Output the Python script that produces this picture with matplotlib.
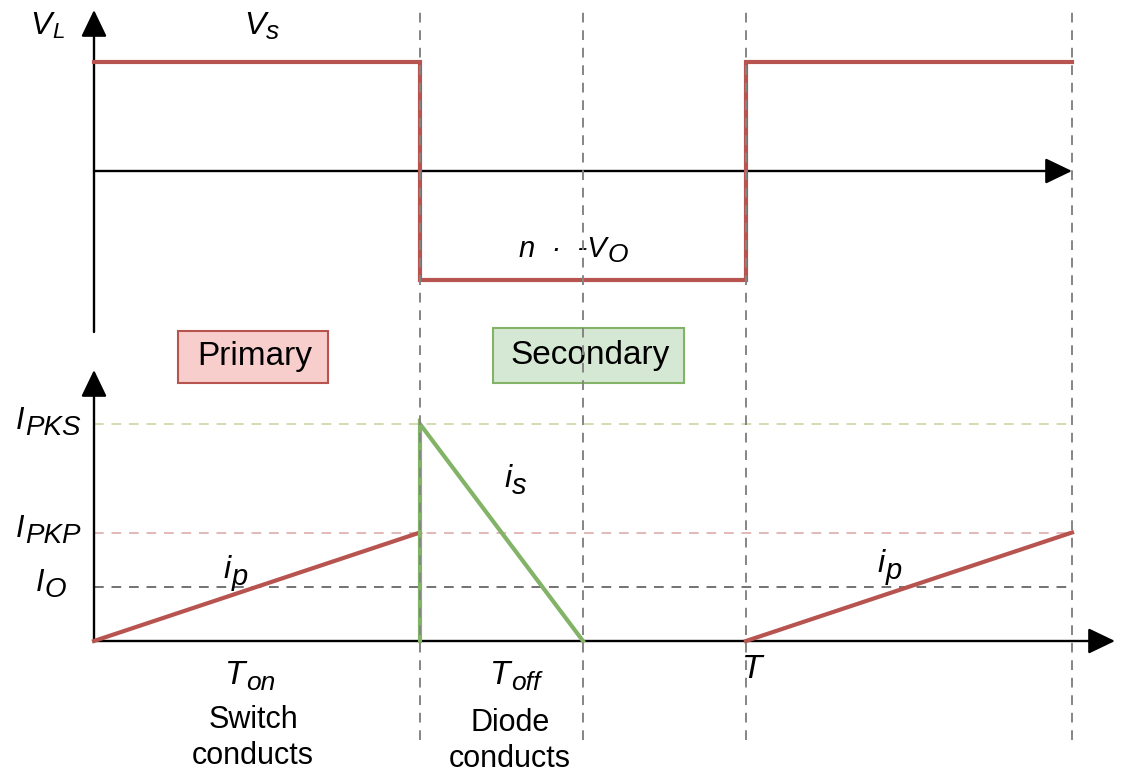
import matplotlib
matplotlib.use("Agg")
import matplotlib.pyplot as plt
from matplotlib.patches import Rectangle, ArrowStyle

plt.rcParams['font.family'] = ['Liberation Sans', 'DejaVu Sans']

# time marks (units of T_on)
t_marks = [1.0, 1.5, 2.0, 3.0]          # T_on, end of T_off, T, end
# inductor voltage waveform
v_t = [0.0, 1.0, 1.0, 2.0, 2.0, 3.0]
v_val = [1.0, 1.0, -1.0, -1.0, 1.0, 1.0]
# currents
ip1_t = [0.0, 1.0]
ip1_val = [0.0, 1.0]
is_t = [1.0, 1.0, 1.5]
is_val = [0.0, 2.0, 0.0]
ip2_t = [2.0, 3.0]
ip2_val = [0.0, 1.0]
# current levels
i_levels = [2.0, 1.0, 0.5]
i_level_names = [('I', 'PKS'), ('I', 'PKP'), ('I', 'O')]
i_level_colors = ['#d2ddb2', '#e2b9b9', '#727272']

RED = '#b85450'
GREEN = '#82b366'
GRAY = '#858585'

fig = plt.figure(figsize=(11.3, 7.78), dpi=100)
W, H = 1130, 778
x0, sx = 94, 326.0      # pixel of t=0, pixels per time unit
sy = 108.5              # pixels per amplitude unit
xlim = (-x0 / sx, (W - x0) / sx)


def px(p):
    return (p - x0) / sx


# top axes: pixel rows 0..340, zero at 171
ax_v = fig.add_axes([0, 1 - 340 / H, 1, 340 / H])
ax_v.set_xlim(xlim)
ax_v.set_ylim(-(340 - 171) / sy, 171 / sy)
# bottom axes: pixel rows 360..778, zero at 641
ax_i = fig.add_axes([0, 0, 1, (H - 360) / H])
ax_i.set_xlim(xlim)
ax_i.set_ylim(-(H - 641) / sy, (641 - 360) / sy)
# overlay for vertical guides
ax_o = fig.add_axes([0, 0, 1, 1])
ax_o.set_xlim(xlim)
ax_o.set_ylim(0, 1)
for a in (ax_v, ax_i, ax_o):
    a.axis('off')
    a.patch.set_alpha(0)


def vy(p):
    return (171 - p) / sy


def iy(p):
    return (641 - p) / sy


def sub_label(ax, x, y, main, sub, size, sub_size, drop):
    t = ax.text(x, y, main, fontsize=size, style='italic', ha='center',
                va='center', zorder=7)
    ax.annotate(sub, xy=(1, 0.5), xycoords=t, xytext=(0.5, -drop),
                textcoords='offset points', fontsize=sub_size, style='italic',
                ha='left', va='center', zorder=7)


for t in t_marks:
    ax_o.axvline(t, ymin=1 - 740 / H, ymax=1 - 10 / H, color=GRAY, lw=1.4,
                 ls=(0, (5, 4)), zorder=0)

head = ArrowStyle('-|>', head_length=0.75, head_width=0.36)
arrow = dict(arrowstyle=head, color='black', lw=1.7, mutation_scale=22,
             shrinkA=0, shrinkB=0)

# top panel
ax_v.annotate('', xy=(0, vy(10)), xytext=(0, vy(332)), arrowprops=arrow)
ax_v.annotate('', xy=(px(1072), 0), xytext=(0, 0), arrowprops=arrow)
ax_v.plot(v_t, v_val, color=RED, lw=3.0, solid_joinstyle='miter', zorder=3)
sub_label(ax_v, px(41), vy(26), 'V', 'L', 23, 16, 5)
sub_label(ax_v, px(255), vy(26), 'V', 's', 23, 19, 4)
sub_label(ax_v, px(563), vy(249), 'n  ·  -V', 'O', 21, 19, 4)

# bottom panel
ax_i.annotate('', xy=(0, iy(370)), xytext=(0, 0), arrowprops=arrow)
ax_i.annotate('', xy=(px(1115), 0), xytext=(0, 0), arrowprops=arrow)
for lvl, col, (m, s), lx in zip(i_levels, i_level_colors, i_level_names, [20, 20, 40]):
    ax_i.plot([0, t_marks[-1]], [lvl, lvl], color=col, lw=1.4,
              ls=(0, (5, 4)), zorder=1)
    sub_label(ax_i, px(lx), lvl + 0.03, m, s, 22, 20, 5)
ax_i.plot(ip1_t, ip1_val, color=RED, lw=3.0, zorder=3)
ax_i.plot(is_t, is_val, color=GREEN, lw=3.0, solid_joinstyle='miter', zorder=4)
ax_i.plot(ip2_t, ip2_val, color=RED, lw=3.0, zorder=3)

sub_label(ax_i, px(227), iy(570), 'i', 'p', 23, 21, 5)
sub_label(ax_i, px(881), iy(564), 'i', 'p', 23, 21, 5)
sub_label(ax_i, px(508), iy(479), 'i', 's', 23, 21, 5)
ax_i.text(px(752), iy(669), 'T', fontsize=24, style='italic', ha='center', va='center')
sub_label(ax_i, px(235), iy(675), 'T', 'on', 24, 19, 6)
sub_label(ax_i, px(500), iy(675), 'T', 'off', 24, 19, 6)
ax_i.text(px(253), iy(738), 'Switch\nconducts', fontsize=22, ha='center',
          va='center', linespacing=1.25)
ax_i.text(px(510), iy(741), 'Diode\nconducts', fontsize=22, ha='center',
          va='center', linespacing=1.25)

# phase boxes
for (xa, xb, ya, yb, fc, ec, label) in [
        (178, 328, 383, 331, '#f8cecc', RED, 'Primary'),
        (493, 684, 383, 328, '#d5e8d4', GREEN, 'Secondary')]:
    ax_i.add_patch(Rectangle((px(xa), iy(ya)), px(xb) - px(xa), iy(yb) - iy(ya),
                             facecolor=fc, edgecolor=ec, lw=1.5, clip_on=False,
                             zorder=5))
    ax_i.text((px(xa) + px(xb)) / 2 + 0.006, (iy(ya) + iy(yb)) / 2, label,
              fontsize=24, ha='center', va='center', zorder=6, clip_on=False)

fig.savefig('out.png', dpi=100)
